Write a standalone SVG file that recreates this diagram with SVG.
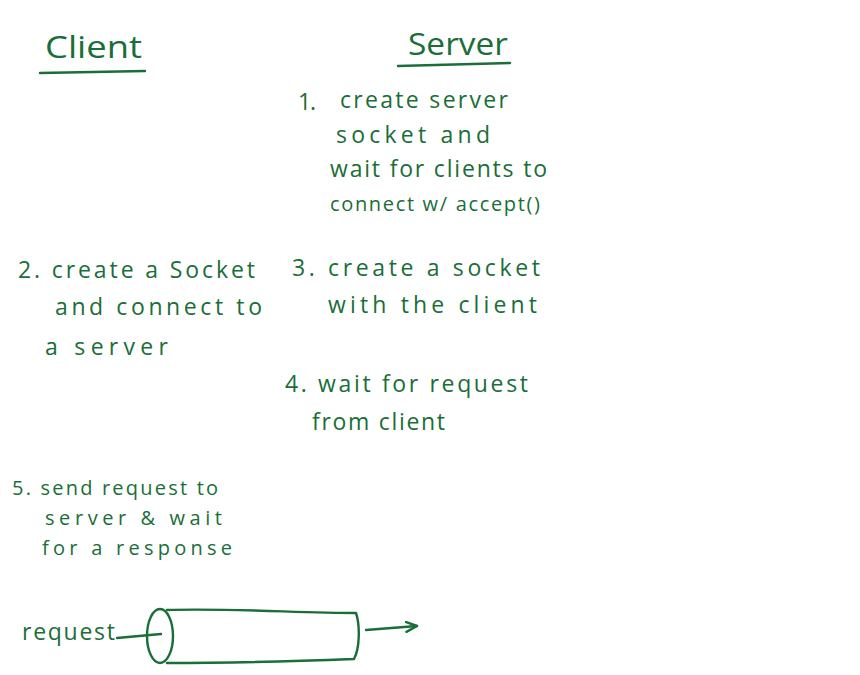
<svg xmlns="http://www.w3.org/2000/svg" width="860" height="675" viewBox="0 0 860 675">
<style>
text{font-family:"Open Sans","Liberation Sans",sans-serif;font-size:23px;fill:#1a6e38}
.s{font-size:20px}
.ln{fill:none;stroke:#1a6e38;stroke-width:2.4;stroke-linecap:round;stroke-linejoin:round}
.h{font-size:31px}
</style>
<defs>
<marker id="ah" markerWidth="14" markerHeight="12" refX="12" refY="6" orient="auto" markerUnits="userSpaceOnUse">
<path d="M1,1 L12,6 L1,11" class="ln"/>
</marker>
</defs>
<rect width="860" height="675" fill="#fff"/>
<g id="client-title">
<text class="h" x="45" y="58" textLength="97" lengthAdjust="spacingAndGlyphs">Client</text>
<path class="ln" d="M40,73 L145,71"/>
</g>
<g id="server-title">
<text class="h" x="408" y="55" textLength="100" lengthAdjust="spacingAndGlyphs">Server</text>
<path class="ln" d="M398,66 L510,63"/>
</g>
<g id="step1">
<text x="298" y="110" textLength="18" lengthAdjust="spacing">1.</text>
<text x="340" y="108" textLength="168" lengthAdjust="spacing">create server</text>
<text x="336" y="143" textLength="154" lengthAdjust="spacing">socket and</text>
<text x="330" y="177" textLength="217" lengthAdjust="spacing">wait for clients to</text>
<text class="s" x="330" y="211" textLength="210" lengthAdjust="spacing">connect w/ accept()</text>
</g>
<g id="step2">
<text x="18" y="278" textLength="237" lengthAdjust="spacing">2. create a Socket</text>
<text x="55" y="315" textLength="207" lengthAdjust="spacing">and connect to</text>
<text x="45" y="355" textLength="123" lengthAdjust="spacing">a server</text>
</g>
<g id="step3">
<text x="292" y="276" textLength="248" lengthAdjust="spacing">3. create a socket</text>
<text x="328" y="313" textLength="209" lengthAdjust="spacing">with the client</text>
</g>
<g id="step4">
<text x="285" y="392" textLength="243" lengthAdjust="spacing">4. wait for request</text>
<text x="312" y="430" textLength="133" lengthAdjust="spacing">from client</text>
</g>
<g id="step5">
<text class="s" x="12" y="495" textLength="206" lengthAdjust="spacing">5. send request to</text>
<text class="s" x="45" y="525" textLength="177" lengthAdjust="spacing">server &amp; wait</text>
<text class="s" x="42" y="555" textLength="190" lengthAdjust="spacing">for a response</text>
</g>
<g id="pipe">
<text x="22" y="640" textLength="93" lengthAdjust="spacing">request</text>
<ellipse class="ln" cx="160" cy="636" rx="13" ry="27"/>
<path class="ln" d="M167,610 C230,608 300,613 356,613 C360,625 360,648 354,659 C300,661 230,663 167,663"/>
</g>
<g id="connectors">
<path class="ln" d="M117,638 L161,634"/>
<path class="ln" d="M366,630 L417,626" marker-end="url(#ah)"/>
</g>
</svg>
